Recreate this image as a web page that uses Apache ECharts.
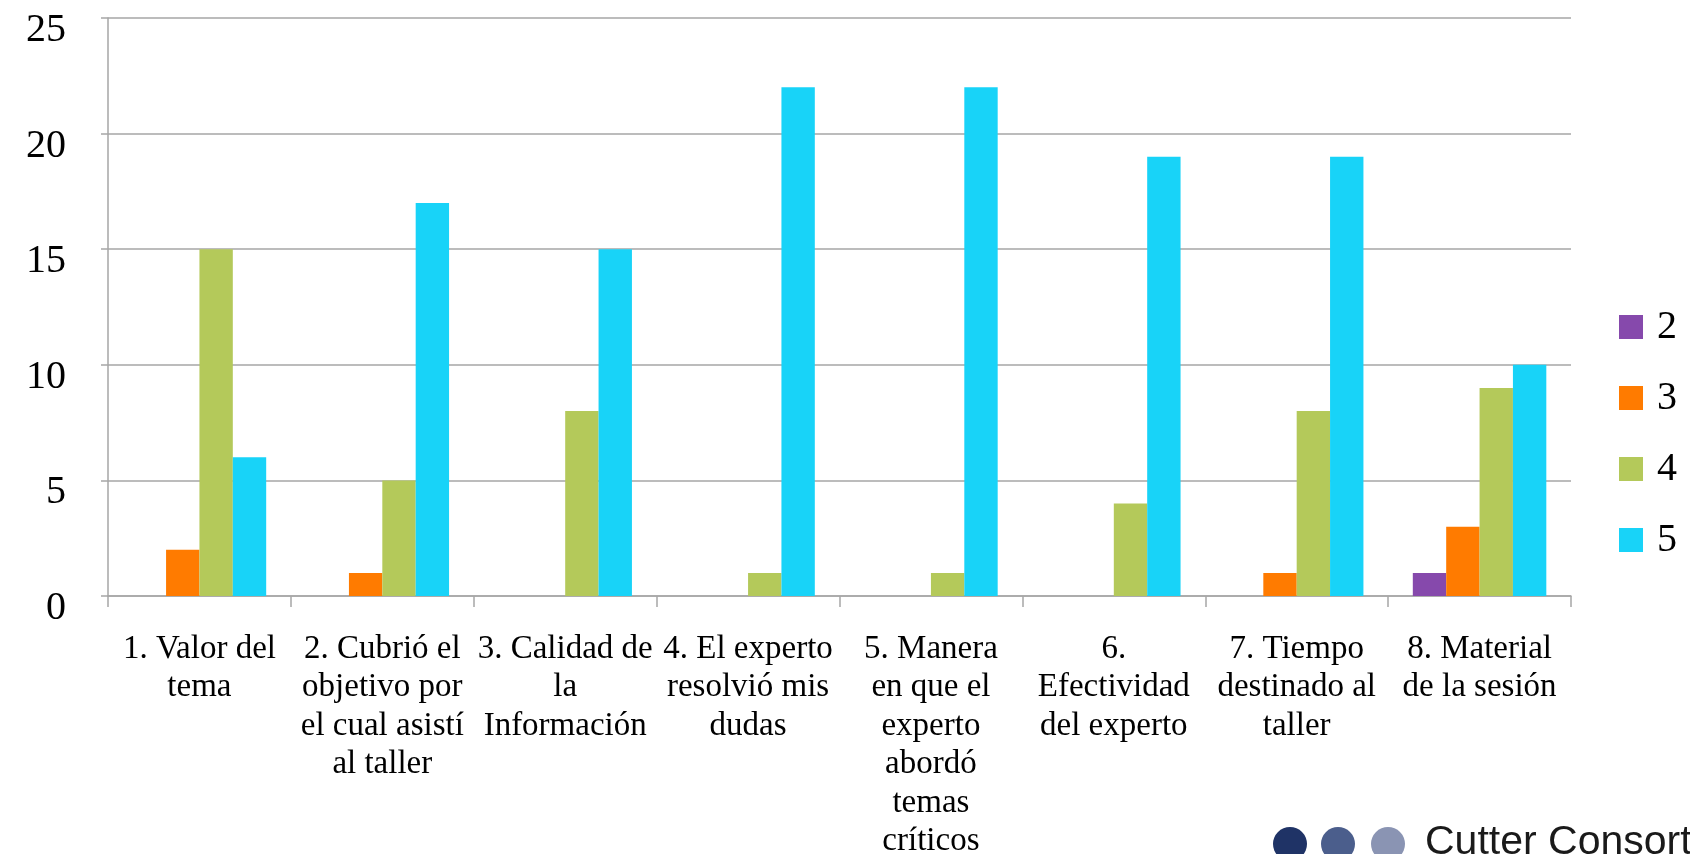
<!DOCTYPE html>
<html>
<head>
<meta charset="utf-8">
<script src="https://cdn.jsdelivr.net/npm/echarts@6/dist/echarts.min.js"></script>
<style>
  html, body { margin: 0; padding: 0; background: #fff; }
  #myChart { width: 1690px; height: 854px; }
</style>
</head>
<body>
<div id="myChart"></div>
<script>
  // categorias (saltos de linea como en la grafica original)
  var categories = [
    '1. Valor del\ntema',
    '2. Cubrió el\nobjetivo por\nel cual asistí\nal taller',
    '3. Calidad de\nla\nInformación',
    '4. El experto\nresolvió mis\ndudas',
    '5. Manera\nen que el\nexperto\nabordó\ntemas\ncríticos',
    '6.\nEfectividad\ndel experto',
    '7. Tiempo\ndestinado al\ntaller',
    '8. Material\nde la sesión'
  ]
  var seriesNames = ['2', '3', '4', '5']
  var valores2 = [0, 0, 0, 0, 0, 0, 0, 1]
  var valores3 = [2, 1, 0, 0, 0, 0, 1, 3]
  var valores4 = [15, 5, 8, 1, 1, 4, 8, 9]
  var valores5 = [6, 17, 15, 22, 22, 19, 19, 10]
  var yTicks = [0, 5, 10, 15, 20, 25]

  var colores = ['#8649ac', '#ff7b00', '#b4c95a', '#18d3f8']
  var serif = '"Liberation Serif", "DejaVu Serif", serif'

  var myChart = echarts.init(document.getElementById('myChart'))
  var allData = [valores2, valores3, valores4, valores5]

  myChart.setOption({
    backgroundColor: '#ffffff',
    animation: false,
    grid: {
      left: 108,
      right: 119,
      top: 18,
      bottom: 258,
      outerBoundsMode: 'none'
    },
    legend: {
      orient: 'vertical',
      left: 1614,
      top: 302,
      itemWidth: 24,
      itemHeight: 24,
      itemGap: 31,
      icon: 'rect',
      data: seriesNames,
      textStyle: {
        fontFamily: serif,
        fontSize: 40,
        lineHeight: 24,
        color: '#000',
        padding: [12, 0, 0, 9]
      }
    },
    xAxis: {
      type: 'category',
      data: categories,
      axisLine: {
        lineStyle: { color: '#a6a6a6', width: 1.5 }
      },
      axisTick: {
        show: true,
        length: 11,
        lineStyle: { color: '#a6a6a6', width: 1.5 }
      },
      axisLabel: {
        interval: 0,
        margin: 34,
        fontFamily: serif,
        fontSize: 33,
        lineHeight: 38.5,
        color: '#000',
        align: 'center'
      }
    },
    yAxis: {
      type: 'value',
      min: yTicks[0],
      max: yTicks[yTicks.length - 1],
      interval: 5,
      axisLine: {
        show: true,
        lineStyle: { color: '#a6a6a6', width: 1.5 }
      },
      axisTick: {
        show: true,
        length: 7,
        lineStyle: { color: '#a6a6a6', width: 1.5 }
      },
      splitLine: {
        lineStyle: { color: '#a6a6a6', width: 1.5 }
      },
      axisLabel: {
        margin: 42,
        fontFamily: serif,
        fontSize: 40,
        lineHeight: 25,
        verticalAlign: 'top',
        color: '#000'
      }
    },
    series: seriesNames.map(function (name, i) {
      return {
        name: name,
        type: 'bar',
        data: allData[i],
        barGap: '0%',
        barCategoryGap: '27%',
        itemStyle: { color: colores[i] }
      }
    }),
    graphic: [
      {
        type: 'group',
        left: 1273,
        top: 822,
        children: [
          { type: 'circle', shape: { cx: 17, cy: 18, r: 17 }, style: { fill: '#1f3366' } },
          { type: 'circle', shape: { cx: 65, cy: 18, r: 17 }, style: { fill: '#4b5e8c' } },
          { type: 'circle', shape: { cx: 115, cy: 18, r: 17 }, style: { fill: '#8a94b3' } },
          {
            type: 'text',
            x: 152,
            y: -4,
            style: {
              text: 'Cutter Consortium',
              fontFamily: '"Liberation Sans", "Open Sans", sans-serif',
              fontSize: 41,
              fill: '#1a1a1a'
            }
          }
        ]
      }
    ]
  })
</script>
</body>
</html>
